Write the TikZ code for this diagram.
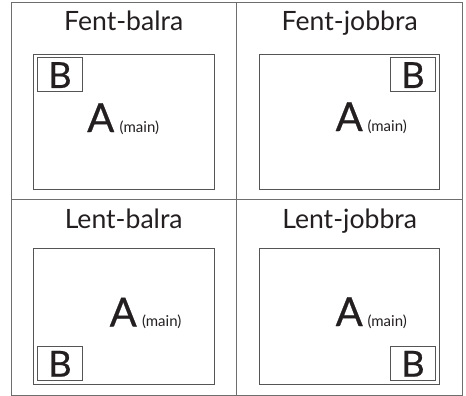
\documentclass[tikz,border=0pt]{standalone}
\usepackage{fontspec}
\setmainfont{Lato}
\newfontfamily\heavyfont[FakeBold=0.6]{Lato}
\definecolor{ink}{HTML}{231F20}
\definecolor{gridc}{HTML}{6E6E6E}
\definecolor{panelc}{HTML}{555555}
\tikzset{
  x=1pt,y=-1pt,
  title/.style={anchor=base,inner sep=0pt,text=ink,font=\fontsize{26.6}{28}\selectfont},
  bigA/.style={anchor=base west,inner sep=0pt,text=ink,font=\heavyfont\fontsize{40}{42}\selectfont},
  mainlbl/.style={anchor=base west,inner sep=0pt,text=ink,font=\fontsize{15}{16}\selectfont},
  bigB/.style={anchor=base,inner sep=0pt,text=ink,font=\heavyfont\fontsize{36}{38}\selectfont},
  gridline/.style={draw=gridc,line width=1pt},
  panel/.style={draw=panelc,line width=0.9pt},
  pip/.style={draw=panelc,line width=0.7pt}
}
\begin{document}
\begin{tikzpicture}
\useasboundingbox (0,0) rectangle (466,396);
\draw[gridline] (11,3) rectangle (462.3,395);
\draw[gridline] (236.7,3) -- (236.7,395);
\draw[gridline] (11,199.5) -- (462.3,199.5);
% panels
\draw[panel] (33,54) rectangle (214,189);
\draw[panel] (259,54) rectangle (439.7,189);
\draw[panel] (33,248.8) rectangle (214,384);
\draw[panel] (259.3,248.8) rectangle (439.7,384);
% picture-in-picture boxes
\draw[pip] (37,57.5) rectangle (82,91);
\draw[pip] (390.3,57.5) rectangle (435.7,91);
\draw[pip] (37,346) rectangle (82,380);
\draw[pip] (390.3,346) rectangle (435.7,380);
% titles
\node[title] (t1) at (123.7,31) {Fent-balra};
\node[title] (t2) at (349.7,31) {Fent-jobbra};
\node[title] (t3) at (123.7,228.3) {Lent-balra};
\node[title] (t4) at (349.7,228.3) {Lent-jobbra};
% B
\node[bigB] (b1) at (60,88) {B};
\node[bigB] (b2) at (413,88) {B};
\node[bigB] (b3) at (60,376.7) {B};
\node[bigB] (b4) at (413,376.7) {B};
% A
\node[bigA] (a1) at (87,132) {A};
\node[mainlbl] (m1) at (119.5,132) {(main)};
\node[bigA] (a2) at (335.5,131) {A};
\node[mainlbl] (m2) at (367.3,131) {(main)};
\node[bigA] (a3) at (109.5,326.5) {A};
\node[mainlbl] (m3) at (141.8,326.5) {(main)};
\node[bigA] (a4) at (335.5,326) {A};
\node[mainlbl] (m4) at (367.3,326) {(main)};
\end{tikzpicture}
\end{document}
